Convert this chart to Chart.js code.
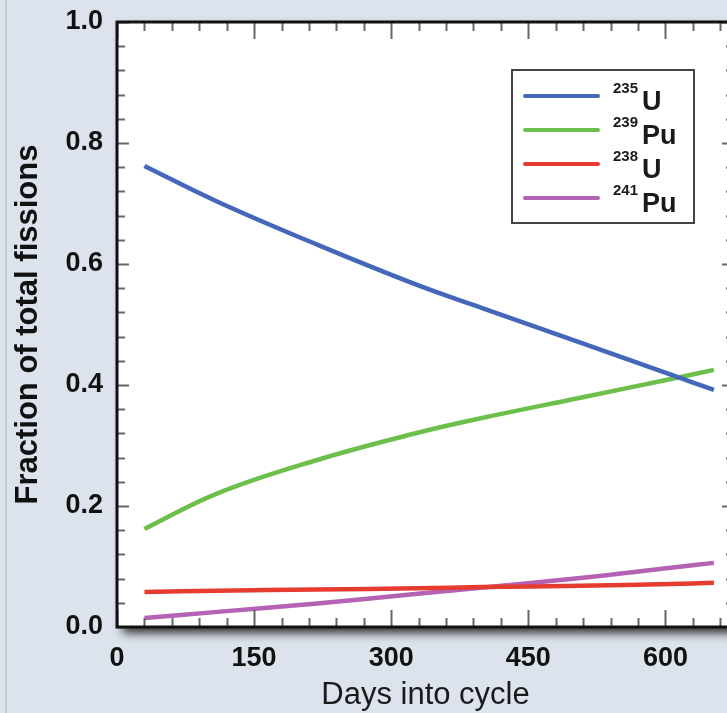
<!DOCTYPE html>
<html>
<head>
<meta charset="utf-8">
<script src="https://cdn.jsdelivr.net/npm/chart.js@4.4.1/dist/chart.umd.min.js"></script>
<style>
  html, body { margin: 0; padding: 0; overflow: hidden; background: #dce3ec; }
  #wrap { width: 760px; height: 713px; }
</style>
</head>
<body>
<div id="wrap"><canvas id="fissionChart" width="760" height="713"></canvas></div>
<script>
const days = [30, 110, 219, 329, 398, 507, 606, 653];

// Fraction of total fissions per isotope
const u235  = [0.762, 0.703, 0.632, 0.565, 0.528, 0.470, 0.417, 0.392];
const pu239 = [0.162, 0.221, 0.276, 0.321, 0.345, 0.379, 0.410, 0.425];
const u238  = [0.058, 0.060, 0.062, 0.064, 0.066, 0.068, 0.071, 0.073];
const pu241 = [0.015, 0.025, 0.039, 0.055, 0.065, 0.081, 0.098, 0.106];

// Legend labels (mass number as superscript + element)
const isotopeMass = ['235', '239', '238', '241'];
const isotopeSymbol = ['U', 'Pu', 'U', 'Pu'];

// Tick labels
const xTicks = [0, 150, 300, 450, 600];
const yTicks = [0.0, 0.2, 0.4, 0.6, 0.8, 1.0];

const seriesColors = ['#4467b9', '#6cbf4a', '#e63b2f', '#b462b3'];

function toPoints(values) {
    return values.map((v, i) => ({ x: days[i], y: v }));
}

// Background, shadowed plot box, inward ticks, frame and legend
const framePlugin = {
    id: 'frame',
    beforeDraw(chart) {
        const { ctx, chartArea: a, width, height } = chart;
        ctx.save();
        ctx.fillStyle = '#dce3ec';
        ctx.fillRect(0, 0, width, height);

        // faint page edge on the left
        ctx.strokeStyle = '#c4cad1';
        ctx.lineWidth = 2;
        ctx.beginPath();
        ctx.moveTo(6, 0);
        ctx.lineTo(6, height);
        ctx.stroke();

        ctx.shadowColor = 'rgba(0, 0, 0, 0.8)';
        ctx.shadowBlur = 9;
        ctx.shadowOffsetX = 6;
        ctx.shadowOffsetY = 6;
        ctx.fillStyle = '#ffffff';
        ctx.fillRect(a.left, a.top, a.right - a.left, a.bottom - a.top);
        ctx.restore();
    },
    afterDatasetsDraw(chart) {
        const { ctx, chartArea: a, scales } = chart;
        const xs = scales.x, ys = scales.y;
        ctx.save();

        // tick marks pointing into the plot
        ctx.strokeStyle = '#666';
        ctx.lineWidth = 2;
        ctx.beginPath();
        for (let d = 0; d <= xs.max; d += 30) {
            const px = Math.round(xs.getPixelForValue(d)) + 0.5;
            const len = d % 150 === 0 ? 17 : 9;
            ctx.moveTo(px, a.bottom);
            ctx.lineTo(px, a.bottom - len);
            ctx.moveTo(px, a.top);
            ctx.lineTo(px, a.top + len);
        }
        for (let k = 0; k <= 25; k++) {
            const py = Math.round(ys.getPixelForValue(k * 0.04)) + 0.5;
            const len = k % 5 === 0 ? 12 : 8;
            ctx.moveTo(a.left, py);
            ctx.lineTo(a.left + len, py);
            ctx.moveTo(a.right, py);
            ctx.lineTo(a.right - len, py);
        }
        ctx.stroke();

        // frame
        ctx.strokeStyle = '#111';
        ctx.lineWidth = 3;
        ctx.strokeRect(a.left, a.top, a.right - a.left, a.bottom - a.top);

        // legend
        const lx = a.left + 395, ly = a.top + 48, lw = 182, lh = 153;
        ctx.fillStyle = '#fff';
        ctx.fillRect(lx, ly, lw, lh);
        ctx.strokeStyle = '#444';
        ctx.lineWidth = 2;
        ctx.strokeRect(lx, ly, lw, lh);

        chart.data.datasets.forEach((ds, i) => {
            const y = ly + 26 + i * 34;
            ctx.strokeStyle = ds.borderColor;
            ctx.lineWidth = 4;
            ctx.lineCap = 'round';
            ctx.beginPath();
            ctx.moveTo(lx + 13, y);
            ctx.lineTo(lx + 86, y);
            ctx.stroke();

            ctx.fillStyle = '#1a1a1a';
            ctx.textBaseline = 'alphabetic';
            ctx.textAlign = 'left';
            ctx.font = 'bold 15px "Liberation Sans"';
            ctx.fillText(isotopeMass[i], lx + 101, y - 3);
            ctx.font = 'bold 27px "Liberation Sans"';
            ctx.fillText(isotopeSymbol[i], lx + 130, y + 14);
        });
        ctx.restore();
    }
};

const ctx = document.getElementById('fissionChart').getContext('2d');

new Chart(ctx, {
    type: 'line',
    data: {
        datasets: [
            { label: '235U', data: toPoints(u235), borderColor: seriesColors[0] },
            { label: '239Pu', data: toPoints(pu239), borderColor: seriesColors[1] },
            { label: '238U', data: toPoints(u238), borderColor: seriesColors[2] },
            { label: '241Pu', data: toPoints(pu241), borderColor: seriesColors[3] }
        ]
    },
    options: {
        responsive: false,
        animation: false,
        layout: { padding: { left: 0, top: 22, right: 26, bottom: 0 } },
        elements: {
            point: { radius: 0 },
            line: { borderWidth: 4.5, tension: 0.4, fill: false }
        },
        plugins: {
            legend: { display: false },
            tooltip: { enabled: false }
        },
        scales: {
            x: {
                type: 'linear',
                min: 0,
                max: 675,
                afterFit: scale => {
                    scale.height = 86;
                    scale.paddingLeft = 0;
                    scale.paddingRight = 0;
                },
                afterBuildTicks: scale => { scale.ticks = xTicks.map(v => ({ value: v })); },
                grid: { display: false, drawTicks: false, tickLength: 0 },
                border: { display: false },
                ticks: {
                    padding: 15,
                    color: '#111',
                    font: { family: 'Liberation Sans', size: 27, weight: 'bold' },
                    maxRotation: 0,
                    callback: v => String(v)
                },
                title: {
                    display: true,
                    text: 'Days into cycle',
                    color: '#1a1a1a',
                    font: { family: 'Liberation Sans', size: 31, weight: 'normal', lineHeight: 1 },
                    padding: { top: 0, bottom: 2 }
                }
            },
            y: {
                type: 'linear',
                min: 0,
                max: 1,
                afterFit: scale => {
                    scale.width = 117;
                    scale.paddingTop = 0;
                    scale.paddingBottom = 0;
                },
                afterBuildTicks: scale => { scale.ticks = yTicks.map(v => ({ value: v })); },
                grid: { display: false, drawTicks: false, tickLength: 0 },
                border: { display: false },
                ticks: {
                    padding: 14,
                    color: '#111',
                    font: { family: 'Liberation Sans', size: 27, weight: 'bold' },
                    callback: v => Number(v).toFixed(1)
                },
                title: {
                    display: true,
                    text: 'Fraction of total fissions',
                    color: '#111',
                    font: { family: 'Liberation Sans', size: 31, weight: 'bold', lineHeight: 1 },
                    padding: { top: 13, bottom: 0 }
                }
            }
        }
    },
    plugins: [framePlugin]
});
</script>
</body>
</html>
